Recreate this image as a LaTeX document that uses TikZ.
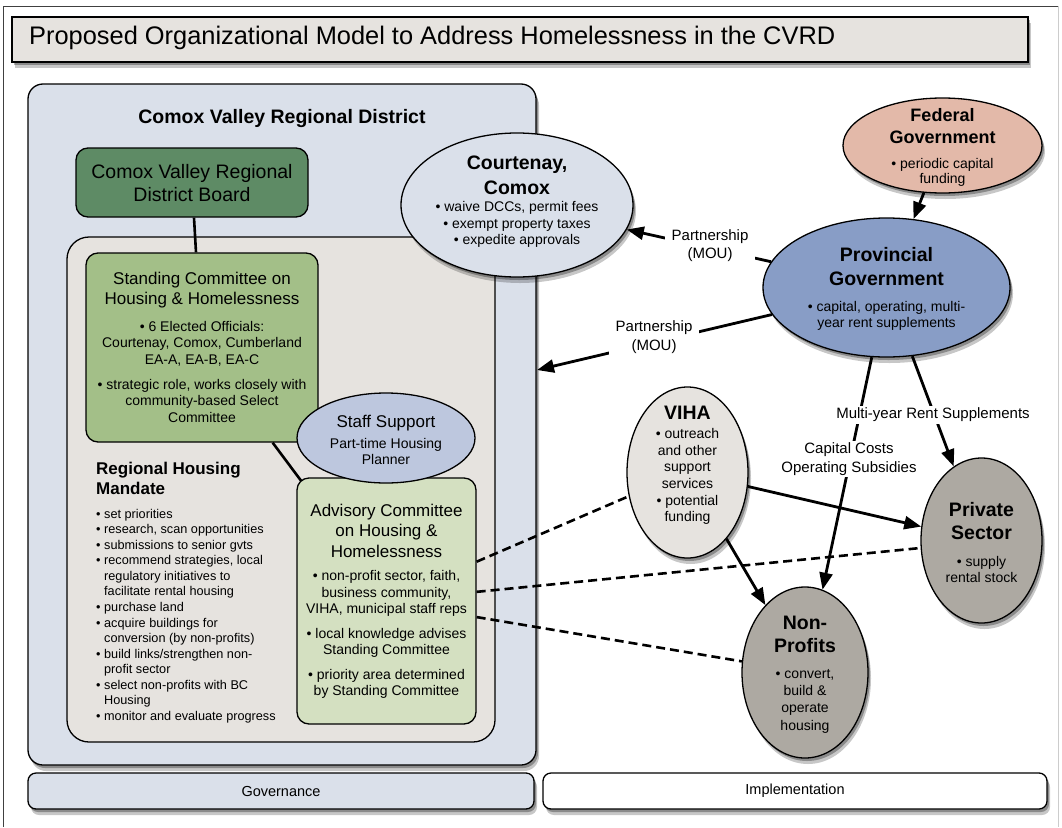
\documentclass[tikz,border=0pt]{standalone}
\usepackage{fontspec}
\setmainfont{Liberation Sans}
\usetikzlibrary{arrows.meta,shapes.geometric,shadows,calc}
\newcommand\fsz[2]{\fontsize{#1pt}{#2pt}\selectfont}
\definecolor{cTitle}{HTML}{E6E3DF}
\definecolor{cBlue}{HTML}{DAE0EA}
\definecolor{cBoard}{HTML}{5E8B65}
\definecolor{cInner}{HTML}{E6E3DF}
\definecolor{cStand}{HTML}{A3BF88}
\definecolor{cAdv}{HTML}{D4E0C1}
\definecolor{cStaff}{HTML}{BDC7DE}
\definecolor{cFed}{HTML}{E3B9A9}
\definecolor{cProv}{HTML}{889DC6}
\definecolor{cGray}{HTML}{ADA9A2}
\begin{document}
\begin{tikzpicture}[x=1pt,y=-1pt,
  shd/.style={drop shadow={opacity=0.22,shadow xshift=3pt,shadow yshift=-6pt,fill=black},
              drop shadow={opacity=0.3,shadow xshift=2pt,shadow yshift=-3pt,fill=black}},
  boxn/.style={draw=black,line width=1.3pt,inner sep=0pt,rectangle},
  elln/.style={ellipse,draw=black,line width=1.3pt,inner sep=0pt},
  txt/.style={align=center,inner sep=0pt},
  arr/.style={line width=2.8pt,-{Triangle[length=17pt,width=13pt]}},
  solid link/.style={line width=2.6pt},
  dsh/.style={line width=2.6pt,dash pattern=on 9pt off 5pt},
  lbl/.style={fill=white,inner xsep=7pt,inner ysep=2pt,align=center,font=\fsz{15}{18.5}}]
\useasboundingbox (0,0) rectangle (1062,827);
\fill[white] (0,0) rectangle (1062,827);
% page frame
\draw[black!75,line width=1pt] (3,827) -- (3,6) -- (1058,6);
\draw[black!20,line width=0.8pt] (1058,6) -- (1058,827);

% title
\node[boxn,shd,fill=cTitle,minimum width=1016pt,minimum height=45pt] (title) at (520,39.5) {};
\node[txt,anchor=west,font=\fsz{25.4}{30}] (titleT) at (29,38) {Proposed Organizational Model to Address Homelessness in the CVRD};

% CVRD region
\node[boxn,shd,fill=cBlue,rounded corners=15pt,minimum width=508pt,minimum height=681pt] (cvrd) at (282,424.5) {};
\node[txt,font=\bfseries\fsz{19.5}{23}] (cvrdT) at (282,118) {Comox Valley Regional District};
\coordinate (cvrdpt) at (537,370);

\node[boxn,fill=cBoard,rounded corners=12pt,minimum width=232pt,minimum height=69pt] (board) at (192,182.5) {};
\node[txt,font=\fsz{19.5}{23}] (boardT) at (192,183.5) {Comox Valley Regional\\District Board};

\node[boxn,fill=cInner,rounded corners=22pt,minimum width=428pt,minimum height=505pt] (inner) at (281,489.5) {};

\node[boxn,fill=cStand,rounded corners=12pt,minimum width=232pt,minimum height=189pt] (stand) at (202,347.5) {};
\node[txt,font=\fsz{17}{20}] (standT) at (202,290) {Standing Committee on\\Housing \& Homelessness};
\node[txt,font=\fsz{14}{16.5}] (standB) at (202,371.5) {• 6 Elected Officials:\\Courtenay, Comox, Cumberland\\EA-A, EA-B, EA-C\\[8.5pt]• strategic role, works closely with\\community-based Select\\Committee};

\draw[solid link] ($(board.south)+(2,0)$) -- ($(stand.north)+(-6,0)$);
\draw[solid link] ($(stand.south east)+(-46,0)$) -- (302,482);

\node[txt,anchor=west,align=left,font=\bfseries\fsz{17}{20}] (mandT) at (96,478) {Regional Housing\\Mandate};
\node[txt,anchor=west,align=left,font=\fsz{12.7}{15.55}] (mandB) at (96,616) {%
• set priorities\\
• research, scan opportunities\\
• submissions to senior gvts\\
• recommend strategies, local\\
\hphantom{• }regulatory initiatives to\\
\hphantom{• }facilitate rental housing\\
• purchase land\\
• acquire buildings for\\
\hphantom{• }conversion (by non-profits)\\
• build links/strengthen non-\\
\hphantom{• }profit sector\\
• select non-profits with BC\\
\hphantom{• }Housing\\
• monitor and evaluate progress};

\node[boxn,fill=cAdv,rounded corners=12pt,minimum width=179pt,minimum height=246pt] (adv) at (386.5,601) {};
\node[txt,font=\fsz{17}{20.5}] (advT) at (386.5,530.5) {Advisory Committee\\on Housing \&\\Homelessness};
\node[txt,font=\fsz{14}{16.7}] (advB) at (386.5,634.5) {• non-profit sector, faith,\\business community,\\VIHA, municipal staff reps\\[7.5pt]• local knowledge advises\\Standing Committee\\[7.5pt]• priority area determined\\by Standing Committee};

\node[elln,fill=cStaff,minimum width=178pt,minimum height=90pt] (staff) at (386,438) {};
\node[txt,font=\fsz{17}{20}] (staffT) at (386,423) {Staff Support};
\node[txt,font=\fsz{14}{16}] (staffB) at (386,451) {Part-time Housing\\Planner};

\node[elln,shd,fill=cBlue,minimum width=232pt,minimum height=144pt] (court) at (517,205) {};
\node[txt,font=\bfseries\fsz{19.5}{25}] (courtT) at (517,175.5) {Courtenay,\\Comox};
\node[txt,font=\fsz{14}{16.5}] (courtB) at (517,224.5) {• waive DCCs, permit fees\\• exempt property taxes\\• expedite approvals};

% implementation side
\node[elln,shd,fill=cFed,minimum width=199pt,minimum height=95pt] (fed) at (942.5,145.5) {};
\node[txt,font=\bfseries\fsz{18}{22}] (fedT) at (942.5,126) {Federal\\Government};
\node[txt,font=\fsz{14}{15.5}] (fedB) at (942.5,172.5) {• periodic capital\\funding};

\node[elln,shd,fill=cProv,minimum width=247pt,minimum height=139pt] (prov) at (886.5,287.5) {};
\node[txt,font=\bfseries\fsz{19.5}{24}] (provT) at (886.5,267) {Provincial\\Government};
\node[txt,font=\fsz{14}{16}] (provB) at (886.5,316) {• capital, operating, multi-\\year rent supplements};

\node[elln,shd,fill=cInner,minimum width=121pt,minimum height=171pt] (viha) at (687.5,472.5) {};
\node[txt,font=\bfseries\fsz{19.5}{23}] (vihaT) at (687.5,413) {VIHA};
\node[txt,font=\fsz{14}{16.6}] (vihaB) at (687.5,476.5) {• outreach\\and other\\support\\services\\• potential\\funding};

\node[elln,shd,fill=cGray,minimum width=121pt,minimum height=165pt] (priv) at (981.5,540.5) {};
\node[txt,font=\bfseries\fsz{19.5}{23}] (privT) at (981.5,521.5) {Private\\Sector};
\node[txt,font=\fsz{14}{16}] (privB) at (981.5,569) {• supply\\rental stock};

\node[elln,shd,fill=cGray,minimum width=126pt,minimum height=171pt] (nonp) at (805,672.5) {};
\node[txt,font=\bfseries\fsz{19.5}{23}] (nonpT) at (805,634.5) {Non-\\Profits};
\node[txt,font=\fsz{14}{17.3}] (nonpB) at (805,701) {• convert,\\build \&\\operate\\housing};

% connectors
\draw[arr] (fed) -- (prov);
\draw[arr] (prov) -- (court);
\draw[arr] (prov) -- (cvrdpt);
\draw[arr] (prov) -- (nonp);
\draw[arr] (prov) -- (priv);
\draw[arr] (viha) -- (priv);
\draw[arr] (viha) -- (nonp);

\draw[dsh] ($(adv.north east)!0.341!(adv.south east)$) -- (viha.202);
\draw[dsh] ($(adv.north east)!0.463!(adv.south east)$) -- (priv.187);
\draw[dsh] ($(adv.north east)!0.565!(adv.south east)$) -- (nonp.170);

\node[lbl] (l1) at (710,245.5) {Partnership\\(MOU)};
\node[lbl] (l2) at (654,337) {Partnership\\(MOU)};
\node[lbl] (l3) at (933,415) {Multi-year Rent Supplements};
\node[lbl] (l4) at (849,459) {Capital Costs\\Operating Subsidies};

% bottom bars
\node[boxn,shd,fill=cBlue,rounded corners=8pt,minimum width=506pt,minimum height=36pt] (gov) at (281,791) {};
\node[txt,font=\fsz{14.5}{16}] (govT) at (281,791) {Governance};
\node[boxn,shd,fill=white,rounded corners=8pt,minimum width=504pt,minimum height=36pt] (impl) at (795,791) {};
\node[txt,font=\fsz{14.5}{16}] (implT) at (795,791) {Implementation};
\end{tikzpicture}
\end{document}
